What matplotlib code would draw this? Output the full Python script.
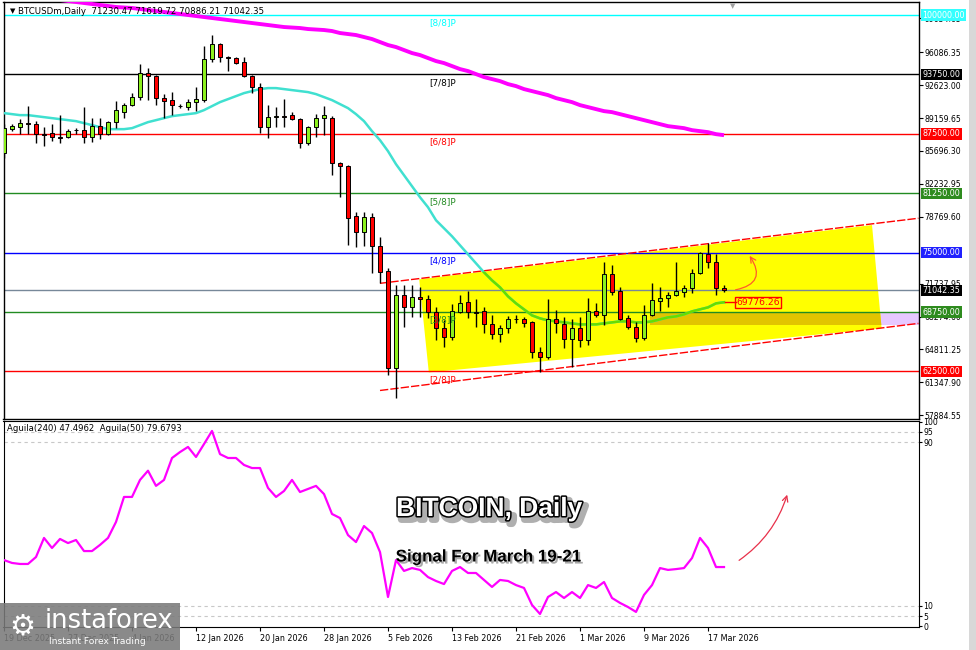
import numpy as np
import pandas as pd
import matplotlib
matplotlib.use('Agg')
import matplotlib.pyplot as plt
import matplotlib.patheffects as pe
from matplotlib.patches import Rectangle, Polygon

# ---- data ----
dates = pd.date_range('2025-12-19', periods=91, freq='D')

opens = [85460, 87990, 88200, 88620, 88520, 87460, 87570, 87150, 87150, 87880,
         87890, 87150, 88310, 87460, 88730, 89780, 90520, 91360, 93890, 93570,
         91260, 91050, 90470, 90310, 90840, 91050, 95370, 96950, 95580, 95470,
         95050, 93570, 92420, 88200, 89300, 89360, 89470, 89050, 86520, 88200,
         89150, 89150, 84410, 84090, 78830, 77140, 78720, 75670, 73030, 62820,
         70510, 69240, 70290, 70080, 68710, 67030, 66080, 68710, 69770, 68710,
         68820, 67450, 66400, 67030, 67980, 67980, 67660, 64500, 63970, 67980,
         67450, 65870, 67030, 65760, 68820, 68400, 72720, 70930, 68080, 67130,
         65980, 68400, 69870, 70190, 70510, 70820, 71240, 72820, 74820, 73980,
         71230.47]
highs = [88520, 88520, 89050, 90410, 88830, 88200, 88520, 89470, 87990, 88100,
         90310, 89150, 89150, 88830, 90940, 90730, 91780, 94840, 94420, 93680,
         91680, 91890, 90630, 91150, 92420, 96730, 97890, 97050, 95680, 95580,
         95580, 93680, 92840, 90520, 90310, 91150, 89780, 89150, 88310, 89570,
         90410, 89360, 84520, 84200, 79250, 79250, 79140, 76610, 73350, 71560,
         71560, 71560, 71350, 70510, 69240, 67870, 69560, 70510, 70930, 70080,
         69240, 68400, 67350, 68290, 68400, 68190, 67770, 65030, 70080, 68930,
         68190, 67980, 68190, 70190, 69660, 73980, 73670, 71350, 68400, 67660,
         69450, 71770, 71350, 70820, 73980, 71560, 73240, 75030, 75980, 74820,
         71619.72]
lows = [84940, 87780, 87460, 87460, 86520, 86200, 86730, 86520, 87040, 87460,
        86520, 86620, 86940, 87360, 88100, 89150, 90410, 91050, 91050, 90520,
        89150, 89470, 90200, 89990, 89890, 90840, 95050, 95050, 94100, 94840,
        93470, 91780, 87570, 87040, 88200, 88200, 88940, 85990, 86310, 87150,
        87360, 83150, 80830, 75770, 75560, 75670, 72820, 71770, 62080, 59660,
        67130, 68190, 68190, 68080, 65760, 65030, 65760, 68610, 68080, 67130,
        66500, 65870, 65550, 66500, 67560, 67130, 63870, 62390, 63760, 66500,
        64920, 62920, 65030, 65240, 68190, 67350, 70510, 67870, 66920, 65550,
        65760, 68290, 68820, 69240, 70400, 70290, 70720, 72720, 73350, 70510,
        70886.21]
closes = [88100, 88310, 88620, 88520, 87460, 87420, 87150, 87100, 87780, 87900,
          87150, 88310, 87460, 88730, 89990, 90520, 91360, 93890, 93570, 91260,
          90940, 90520, 90410, 90840, 91150, 95370, 96950, 95580, 95500, 94940,
          93570, 92420, 88200, 89260, 89360, 89300, 89050, 86520, 88200, 89150,
          89470, 84410, 84090, 78620, 77140, 78720, 75670, 72930, 62820, 70510,
          69240, 70290, 70080, 68710, 67030, 66080, 68820, 69660, 68710, 68650,
          67450, 66400, 67030, 67980, 68000, 67560, 64500, 63970, 67980, 67560,
          65870, 67030, 65760, 68820, 68400, 72720, 70820, 67980, 67130, 65980,
          68400, 69980, 70190, 70510, 70930, 71240, 72820, 74930, 73980, 71240,
          71042.35]

nan = np.nan
ma_slow = [nan] * 7 + [
    101580, 101475, 101369, 101264, 101159, 101053, 100948, 100843, 100790, 100737,
    100632, 100527, 100421, 100316, 100211, 100105, 100000, 99895, 99789, 99684,
    99579, 99473, 99368, 99263, 99157, 99052, 98947, 98841, 98736, 98683,
    98630, 98525, 98472, 98420, 98315, 98104, 97999, 97893, 97683, 97472,
    97156, 96840, 96629, 96313, 95997, 95786, 95470, 95154, 94943, 94627,
    94311, 94101, 93785, 93469, 93258, 93047, 92731, 92521, 92205, 91994,
    91783, 91573, 91257, 91046, 90835, 90519, 90309, 90098, 89887, 89782,
    89571, 89361, 89150, 88939, 88729, 88518, 88307, 88202, 88096, 87886,
    87780, 87675, 87464, 87359]

ma_fast = [89677, 89571, 89466, 89466, 89361, 89255, 89150, 89045, 88939, 88834,
           88623, 88413, 88202, 87991, 87991, 87991, 88096, 88413, 88729, 88939,
           89150, 89361, 89466, 89571, 89677, 89993, 90414, 90835, 91151, 91467,
           91783, 91994, 92205, 92310, 92310, 92205, 92099, 91994, 91889, 91678,
           91362, 91046, 90625, 90203, 89571, 88834, 87781, 86832, 85673, 84304,
           83146, 81987, 80828, 79775, 78405, 77563, 76720, 75772, 74824, 73875,
           72928, 72085, 71347, 70399, 69662, 69030, 68398, 68082, 67871, 67766,
           67661, 67555, 67450, 67450, 67450, 67555, 67661, 67766, 67766, 67661,
           67661, 67766, 67977, 68187, 68293, 68503, 68819, 69030, 69240, 69662,
           69776.26]

aguila = [32.4, 31.0, 30.5, 30.5, 33.9, 43.2, 38.3, 42.7, 40.7, 42.2,
          36.8, 36.8, 39.8, 43.2, 51.0, 63.2, 63.2, 71.5, 76.0, 68.6,
          71.5, 82.2, 85.1, 87.6, 82.7, 89.0, 95.4, 84.1, 82.2, 82.2,
          78.8, 77.3, 77.3, 67.6, 63.2, 66.1, 71.5, 65.6, 67.1, 68.6,
          64.6, 54.9, 52.9, 44.6, 41.2, 49.0, 45.6, 36.3, 14.4, 32.4,
          27.1, 28.5, 27.6, 24.1, 22.2, 20.7, 27.1, 29.0, 26.1, 26.1,
          22.7, 19.3, 22.7, 22.2, 20.2, 18.8, 10.5, 6.1, 14.4, 16.8,
          13.9, 16.8, 13.9, 20.2, 18.8, 21.7, 13.9, 11.5, 9.5, 7.1,
          15.4, 20.2, 28.5, 27.6, 28.0, 28.5, 33.4, 43.2, 38.3, 29.0,
          29.0]

murray_levels = [100000, 93750, 87500, 81250, 75000, 68750, 62500]
murray_names = ['[8/8]P', '[7/8]P', '[6/8]P', '[5/8]P', '[4/8]P', '[3/8]P', '[2/8]P']
murray_colors = ['#00FFFF', '#000000', '#FF0000', '#228B22', '#0000FF', '#228B22', '#FF0000']
last_price = 71042.35
ma_label = 69776.26

price_ticks = [99634.65, 96086.35, 92623.00, 89159.65, 85696.30, 82232.95,
               78769.60, 71737.95, 68274.60, 64811.25, 61347.90, 57884.55]
ind_levels = [95, 90, 10, 5]
ind_ticks = [100, 95, 90, 10, 5, 0]

# ---- figure ----
W, H = 976, 650
fig = plt.figure(figsize=(W / 100, H / 100), dpi=100)
fig.patch.set_facecolor('white')

def rect(l, t, r, b):
    return [l / W, 1 - b / H, (r - l) / W, (b - t) / H]

ax = fig.add_axes(rect(3.5, 2, 918.5, 418.5))
ax2 = fig.add_axes(rect(3.5, 421, 918.5, 627))

x = np.arange(len(opens))
bull, bear = '#8CF01E', '#FF0000'

# yellow channel fill
chan = Polygon([(51.9, 72190), (108.5, 77900), (109.7, 67030), (53.1, 62394)],
               closed=True, facecolor='#FFFF00', edgecolor='none', zorder=1)
ax.add_patch(chan)
# lavender zone and its overlap with the channel
ax.add_patch(Rectangle((80.8, 67345), 40, 68750 - 67345, facecolor='#E6C8FF',
                       edgecolor='none', zorder=0.9))
band2 = Rectangle((80.8, 67345), 40, 68750 - 67345, facecolor='#E2C400',
                  edgecolor='none', zorder=1.1)
ax.add_patch(band2)
band2.set_clip_path(chan)

for lv, c in zip(murray_levels, murray_colors):
    ax.axhline(lv, color=c, lw=1, zorder=2)
ax.axhline(last_price, color='#778899', lw=1, zorder=2)

# channel lines
ax.plot([47, 114.3], [71769, 78616], color='#FF0000', lw=1, ls=(0, (6, 1.5)), zorder=2.5)
ax.plot([47, 114.3], [60497, 67555], color='#FF0000', lw=1, ls=(0, (6, 1.5)), zorder=2.5)

# moving averages
ax.plot(x, ma_slow, color='#FF00FF', lw=2.8, zorder=3, solid_capstyle='butt')
ax.plot(x, ma_fast, color='#40E0D0', lw=1.8, zorder=3)
gl, = ax.plot(x, ma_fast, color='#66DD00', lw=1.8, zorder=3.1)
gl.set_clip_path(chan)

# candles
for xi, o, h, l, c in zip(x, opens, highs, lows, closes):
    ax.vlines(xi, l, h, color='black', lw=1, zorder=4)
    ax.add_patch(Rectangle((xi - 0.28, min(o, c)), 0.56, max(abs(c - o), 25),
                           facecolor=bull if c >= o else bear, edgecolor='black',
                           lw=0.7, zorder=5))

# murray labels
for lv, nm, c in zip(murray_levels, murray_names, murray_colors):
    ax.annotate(nm, (53.1, lv), xytext=(0, -2.5), textcoords='offset points',
                ha='left', va='top', fontsize=6.4, color=c, zorder=6)

# ma label and arrow
ax.plot([90.1, 91.5], [ma_label, ma_label], color='#FF0000', lw=1, zorder=6)
ax.text(91.55, ma_label, f'{ma_label:.2f}', color='#FF0000', fontsize=6.6,
        ha='left', va='center', zorder=6,
        bbox=dict(boxstyle='square,pad=0.12', facecolor='none', edgecolor='#FF0000', lw=1))
ax.annotate('', xy=(93.0, 74900), xytext=(91.1, 71030),
            arrowprops=dict(arrowstyle='->', color='#FF5A2A', lw=0.9,
                            connectionstyle='arc3,rad=0.8'), zorder=6)

ax.set_xlim(-0.0625, 114.31)
ax.set_ylim(57548, 101369)
ax.set_xticks([])
ax.yaxis.tick_right()
ax.set_yticks(price_ticks)
ax.set_yticklabels([f'{t:.2f}' for t in price_ticks])
ax.tick_params(axis='y', labelsize=5.6, length=3, pad=1.5, width=0.8)

# level boxes on the price scale
box_colors = ['#33FFFF', '#000000', '#FF0000', '#2E8B1E', '#2020FF', '#2E8B1E', '#FF0000']
yt = ax.get_yaxis_transform()
for lv, c in zip(murray_levels, box_colors):
    ax.text(1.0045, lv, f'{lv:.2f}', transform=yt, color='white', fontsize=5.8,
            ha='left', va='center', clip_on=False, zorder=10,
            bbox=dict(boxstyle='square,pad=0.15', facecolor=c, edgecolor='none'))
ax.text(1.0045, last_price, f'{last_price:.2f}', transform=yt, color='white', fontsize=5.8,
        ha='left', va='center', clip_on=False, zorder=10,
        bbox=dict(boxstyle='square,pad=0.15', facecolor='black', edgecolor='none'))

for s in ax.spines.values():
    s.set_linewidth(1)

# ---- indicator panel ----
ax2.plot(x, aguila, color='#FF00FF', lw=1.6, zorder=3)
for lv in ind_levels:
    ax2.axhline(lv, color='#C8C8C8', lw=0.8, ls=(0, (3, 3)), zorder=1)
ax2.annotate('', xy=(98.0, 65.6), xytext=(91.6, 31.5),
             arrowprops=dict(arrowstyle='->', color='#E8304A', lw=0.9,
                             connectionstyle='arc3,rad=0.18'))
ax2.set_xlim(-0.0625, 114.31)
ax2.set_ylim(-0.25, 100.25)
ax2.yaxis.tick_right()
ax2.set_yticks(ind_ticks)
ax2.set_yticklabels([str(t) for t in ind_ticks])
ax2.tick_params(axis='y', labelsize=5.6, length=2, pad=1.5)
tick_idx = list(range(0, len(dates), 8))
ax2.set_xticks(tick_idx)
ax2.set_xticklabels([f'{dates[i].day} {dates[i]:%b %Y}' for i in tick_idx], ha='left')
ax2.tick_params(axis='x', labelsize=5.8, length=3, pad=2)
ax2.text(0.004, 0.985, 'Aguila(240) 47.4962  Aguila(50) 79.6793', transform=ax2.transAxes,
         fontsize=6.1, ha='left', va='top')

# ---- headline text ----
fig.text(10 / W, 1 - 11 / H, '\u25bc', fontsize=5, ha='left', va='center')
fig.text(18 / W, 1 - 11 / H, 'BTCUSDm,Daily  71230.47 71619.72 70886.21 71042.35',
         fontsize=6.2, ha='left', va='center')
fig.text(733 / W, 1 - 6 / H, '\u25bc', fontsize=5, color='#A0A0A0', ha='center', va='center')

fig.text(489 / W, 1 - 509 / H, 'BITCOIN, Daily', family='Liberation Sans', weight='bold',
         fontsize=19, color='white', ha='center', va='center',
         path_effects=[pe.Stroke(linewidth=5, foreground='#606060', alpha=0.5, offset=(2.5, -2.5)),
                       pe.Stroke(linewidth=2.2, foreground='black'), pe.Normal()])
fig.text(488 / W, 1 - 557 / H, 'Signal For March 19-21', family='Liberation Sans', weight='bold',
         fontsize=12.2, color='black', ha='center', va='center',
         path_effects=[pe.SimplePatchShadow(offset=(1.5, -1.5), shadow_rgbFace='#555555', alpha=0.5),
                       pe.Normal()])

# ---- logo ----
fig.patches.append(Rectangle((0, 1 - 650 / H), 180 / W, 47 / H, transform=fig.transFigure,
                             facecolor='#7A7A7A', alpha=0.88, edgecolor='none', zorder=20))
fig.text(22 / W, 1 - 626 / H, '\u2699', fontsize=21, color='white', ha='center', va='center', zorder=21)
fig.text(45 / W, 1 - 621 / H, 'instaforex', fontsize=18.5, color='white', ha='left', va='center', zorder=21)
fig.text(49 / W, 1 - 642 / H, 'Instant Forex Trading', fontsize=6.6, color='white',
         ha='left', va='center', zorder=21)

# window border pieces
fig.patches.append(Rectangle((969 / W, 0), 7 / W, 1, transform=fig.transFigure,
                             facecolor='#D8D8D8', edgecolor='none', zorder=15))

fig.savefig('out.png', dpi=100)
